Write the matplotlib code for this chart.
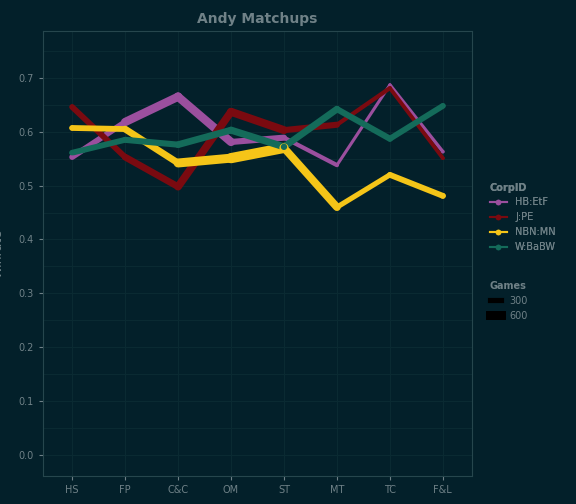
import matplotlib.pyplot as plt
import numpy as np
from matplotlib.lines import Line2D

cats = ["HS", "FP", "C&C", "OM", "ST", "MT", "TC", "F&L"]
corps = ["HB:EtF", "J:PE", "NBN:MN", "W:BaBW"]
colors = ["#9b4f9e", "#7a0a10", "#f5c518", "#146b5a"]
winrate = {
    "HB:EtF": [0.553, 0.618, 0.665, 0.581, 0.589, 0.538, 0.687, 0.563],
    "J:PE":   [0.646, 0.553, 0.498, 0.637, 0.603, 0.613, 0.681, 0.551],
    "NBN:MN": [0.607, 0.605, 0.542, 0.551, 0.570, 0.460, 0.520, 0.481],
    "W:BaBW": [0.561, 0.585, 0.576, 0.603, 0.572, 0.642, 0.587, 0.648],
}
games = {
    "HB:EtF": [250, 450, 650, 450, 300, 150, 120, 200],
    "J:PE":   [300, 400, 450, 550, 500, 250, 200, 200],
    "NBN:MN": [350, 350, 500, 700, 700, 300, 300, 400],
    "W:BaBW": [350, 350, 400, 450, 450, 400, 350, 350],
}

bg = "#03202a"
grid = "#0a2a32"
txt = "#6f8187"

def lw(g):
    return 1.0 + g / 110.0

fig = plt.figure(figsize=(5.76, 5.04), dpi=100, facecolor=bg)
ax = fig.add_axes([43 / 576, 28 / 504, 429 / 576, 445 / 504], facecolor=bg)
x = np.arange(len(cats))
for c, col in zip(corps, colors):
    y = winrate[c]
    g = games[c]
    for i in range(len(x) - 1):
        ax.plot(x[i:i + 2], y[i:i + 2], color=col, lw=lw((g[i] + g[i + 1]) / 2),
                solid_capstyle="round", zorder=2)
    ax.scatter(x, y, s=[lw(v) ** 2 * 0.8 for v in g], color=col, zorder=3, linewidths=0)

ax.set_xlim(-0.55, 7.55)
ax.set_ylim(-0.039, 0.787)
ax.set_xticks(x)
ax.set_xticklabels(cats)
ax.set_yticks(np.arange(0, 0.71, 0.1))
ax.set_yticks(np.arange(0.05, 0.76, 0.1), minor=True)
ax.grid(True, which="both", color=grid, lw=0.8)
ax.set_axisbelow(True)
for s in ax.spines.values():
    s.set_color("#26464d")
ax.tick_params(colors=txt, labelsize=7, length=3, which="major")
ax.tick_params(which="minor", length=0)
for lbl in ax.get_xticklabels() + ax.get_yticklabels():
    lbl.set_color(txt)
ax.set_ylabel("Winrate", color=txt, fontsize=9, labelpad=10)
ax.set_title("Andy Matchups", color=txt, fontsize=10, fontweight="bold")

h1 = [Line2D([], [], color=col, lw=1.5, marker="o", ms=3) for col in colors]
leg1 = fig.legend(h1, corps, title="CorpID", loc="upper left", bbox_to_anchor=(0.835, 0.655),
                  frameon=False, fontsize=7, title_fontsize=7, alignment="left", handlelength=1.8)
plt.setp(leg1.get_title(), color=txt, fontweight="bold")
for t in leg1.get_texts():
    t.set_color(txt)
h2 = [Line2D([], [], color="black", lw=lw(g)) for g in [300, 600]]
leg2 = fig.legend(h2, ["300", "600"], title="Games", loc="upper left", bbox_to_anchor=(0.835, 0.46),
                  frameon=False, fontsize=7, title_fontsize=7, alignment="left", handlelength=1.2)
plt.setp(leg2.get_title(), color=txt, fontweight="bold")
for t in leg2.get_texts():
    t.set_color(txt)
fig.add_artist(leg1)

fig.savefig("out.png", facecolor=bg)
